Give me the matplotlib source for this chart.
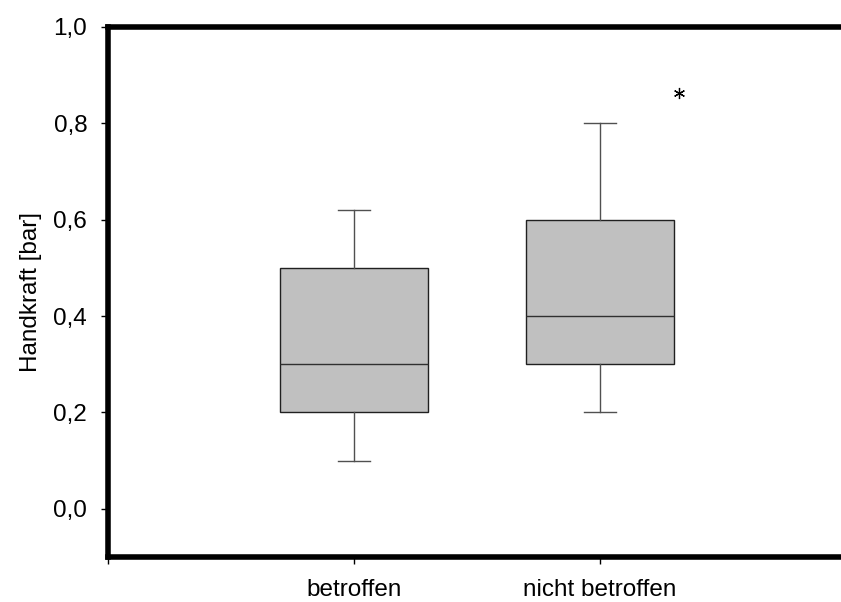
import matplotlib
matplotlib.use("Agg")
import matplotlib.pyplot as plt
from matplotlib.ticker import FuncFormatter

plt.rcParams['font.family'] = ['Liberation Sans', 'DejaVu Sans']

categories = ["betroffen", "nicht betroffen"]
whislo = [0.10, 0.20]
q1 = [0.20, 0.30]
med = [0.30, 0.40]
q3 = [0.50, 0.60]
whishi = [0.62, 0.80]
outlier_x = [2.32]
outlier_y = [0.863]
yticks = [0.0, 0.2, 0.4, 0.6, 0.8, 1.0]

fig = plt.figure(figsize=(8.41, 6.02), dpi=100)
ax = fig.add_axes([108/841, 1 - 557/602, (846 - 108)/841, (557 - 27)/602])

stats = []
for i, c in enumerate(categories):
    stats.append(dict(label=c, whislo=whislo[i], q1=q1[i], med=med[i],
                      q3=q3[i], whishi=whishi[i], fliers=[]))

ax.bxp(stats, positions=[1, 2], widths=0.6, patch_artist=True, showfliers=False,
       boxprops=dict(facecolor='#c0c0c0', edgecolor='#202020', linewidth=1.0),
       medianprops=dict(color='#303030', linewidth=1.0),
       whiskerprops=dict(color='#505050', linewidth=1.0),
       capprops=dict(color='#505050', linewidth=1.0),
       capwidths=0.13)

ax.plot(outlier_x, outlier_y, linestyle='none', marker=(6, 2, 0),
        markersize=8, color='black', markeredgewidth=0.9)

ax.set_xlim(0, 3)
ax.set_ylim(-0.1, 1.0)
ax.set_xticks([0, 1, 2])
ax.set_xticklabels(["", categories[0], categories[1]])
ax.set_yticks(yticks)
ax.yaxis.set_major_formatter(FuncFormatter(lambda v, p: f"{v:.1f}".replace('.', ',')))

for s in ['left', 'top', 'bottom']:
    ax.spines[s].set_linewidth(4)
ax.spines['right'].set_visible(False)

ax.tick_params(axis='both', direction='out', length=5, width=1, labelsize=17.5)
ax.tick_params(axis='y', pad=10)
ax.tick_params(axis='x', pad=11)
ax.set_ylabel("Handkraft [bar]", fontsize=17.5, labelpad=8)

fig.savefig("out.png", dpi=100)
